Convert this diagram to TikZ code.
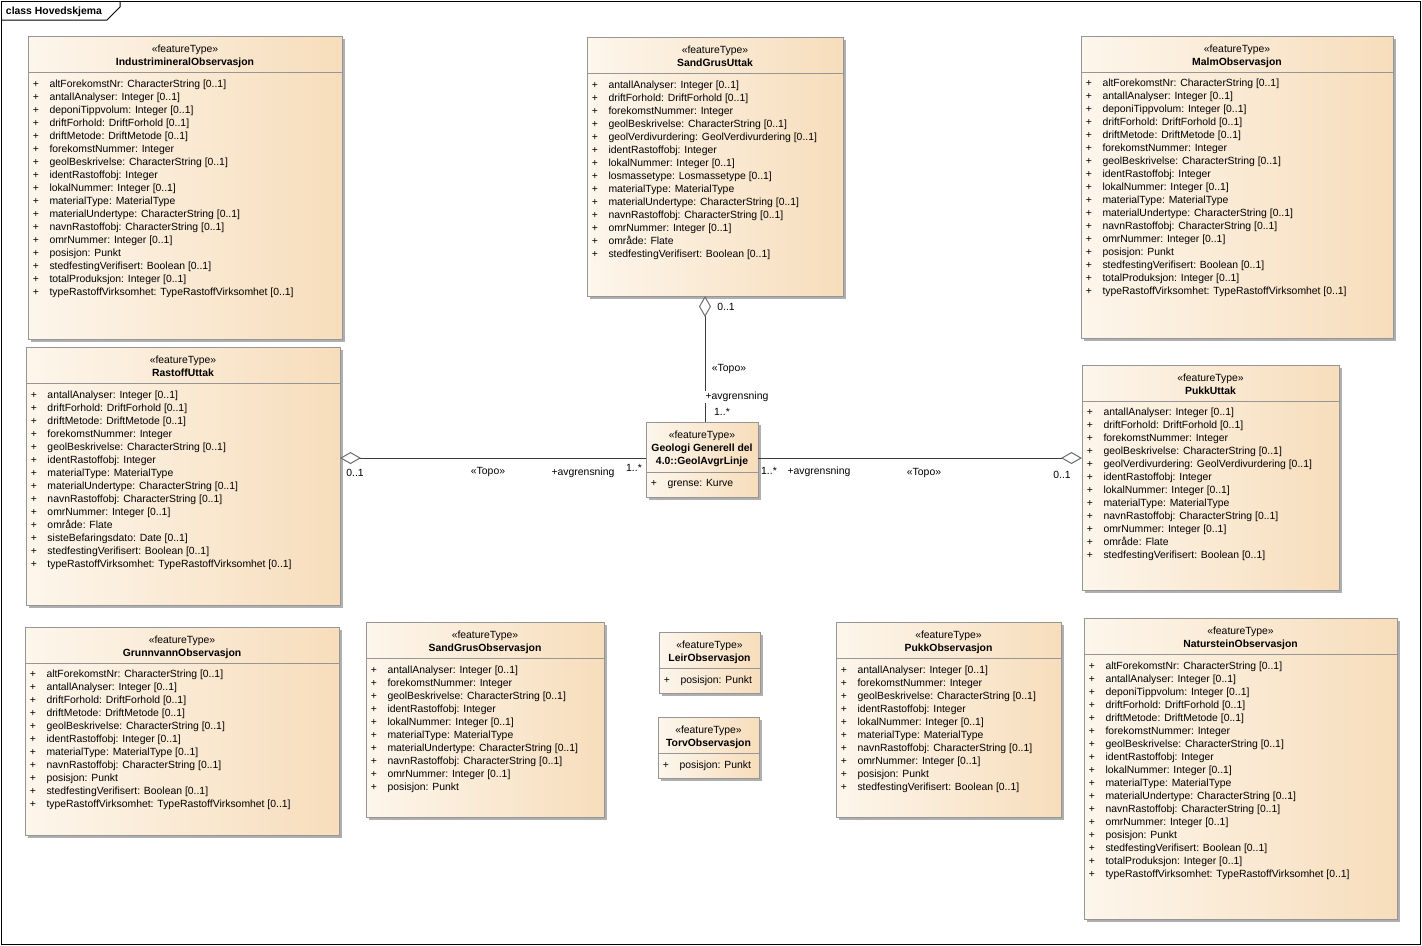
\documentclass[tikz,border=0pt]{standalone}
\usepackage{fontspec}
\setmainfont{Liberation Sans}
\usetikzlibrary{arrows.meta,shadows,calc}
\definecolor{fillL}{RGB}{253,246,236}
\definecolor{fillR}{RGB}{247,221,187}
\definecolor{boxborder}{RGB}{150,150,150}
\definecolor{shadowc}{RGB}{175,175,175}
\definecolor{linec}{RGB}{60,60,60}
\definecolor{diamc}{RGB}{110,110,110}

\tikzset{
 classbox/.style={draw=boxborder, line width=0.75pt, left color=fillL, right color=fillR,
   inner sep=0pt, outer sep=0pt,
   drop shadow={shadow xshift=2.6pt, shadow yshift=-2.6pt, fill=shadowc, opacity=1}},
 sepline/.style={draw=boxborder, line width=0.75pt},
 txt/.style={inner sep=0pt, outer sep=0pt, font=\fontsize{7.8}{9.75}\selectfont, text=black},
 stereo/.style={txt, anchor=base},
 cname/.style={txt, anchor=base, font=\fontsize{7.8}{9.75}\selectfont\bfseries},
 plus/.style={txt, anchor=base},
 attr/.style={txt, anchor=base west},
 lbl/.style={txt, anchor=base},
 assoc/.style={draw=linec, line width=0.75pt,
   -{Diamond[length=15.75pt, width=9pt, fill=white, color=diamc]}},
}

\newcommand\uclass[6]{%
  \node[classbox, minimum width={(#4-#2)*0.75pt}, minimum height={(#5-#3)*0.75pt}]
    (#1) at ({(#2+#4)/2},{(#3+#5)/2}) {};
  \draw[sepline] ([yshift=-27pt]#1.north west) -- ([yshift=-27pt]#1.north east);
  \node[stereo] (#1-st) at ([yshift=-12.375pt]#1.north) {«featureType»};
  \node[cname] (#1-nm) at ([yshift=-22.125pt]#1.north) {#6};
}
\newcommand\uattrs[3]{%
  \foreach \a [count=\i] in {#3} {
    \pgfmathsetmacro\dy{-(#2+4.5+(\i-1)*13)*0.75}
    \node[plus] (#1-p\i) at ([xshift=6pt,yshift=\dy pt]#1.north west) {+};
    \node[attr] (#1-a\i) at ([xshift=16.125pt,yshift=\dy pt]#1.north west) {\a};
  }
}

\begin{document}
\begin{tikzpicture}[x=0.75pt,y=-0.75pt]
\useasboundingbox (0,0) rectangle (1422,946);
\fill[white] (0,0) rectangle (1422,946);

% frame
\draw[black, line width=0.75pt] (1,1) rectangle (1420.5,944.5);
\draw[black, line width=0.75pt] (1,20) -- (107,20) -- (120,7) -- (120,1);
\node[txt, anchor=base west, font=\fontsize{7.8}{9.75}\selectfont\bfseries] (title) at (6,14) {class Hovedskjema};

% top row
\uclass{ind}{28}{36}{342}{339}{IndustrimineralObservasjon}
\uattrs{ind}{47}{{altForekomstNr: CharacterString [0..1]},{antallAnalyser: Integer [0..1]},{deponiTippvolum: Integer [0..1]},{driftForhold: DriftForhold [0..1]},{driftMetode: DriftMetode [0..1]},{forekomstNummer: Integer},{geolBeskrivelse: CharacterString [0..1]},{identRastoffobj: Integer},{lokalNummer: Integer [0..1]},{materialType: MaterialType},{materialUndertype: CharacterString [0..1]},{navnRastoffobj: CharacterString [0..1]},{omrNummer: Integer [0..1]},{posisjon: Punkt},{stedfestingVerifisert: Boolean [0..1]},{totalProduksjon: Integer [0..1]},{typeRastoffVirksomhet: TypeRastoffVirksomhet [0..1]}}

\uclass{sgu}{587}{37}{843}{296}{SandGrusUttak}
\uattrs{sgu}{47}{{antallAnalyser: Integer [0..1]},{driftForhold: DriftForhold [0..1]},{forekomstNummer: Integer},{geolBeskrivelse: CharacterString [0..1]},{geolVerdivurdering: GeolVerdivurdering [0..1]},{identRastoffobj: Integer},{lokalNummer: Integer [0..1]},{losmassetype: Losmassetype [0..1]},{materialType: MaterialType},{materialUndertype: CharacterString [0..1]},{navnRastoffobj: CharacterString [0..1]},{omrNummer: Integer [0..1]},{område: Flate},{stedfestingVerifisert: Boolean [0..1]}}

\uclass{malm}{1081}{36}{1393}{338}{MalmObservasjon}
\uattrs{malm}{46}{{altForekomstNr: CharacterString [0..1]},{antallAnalyser: Integer [0..1]},{deponiTippvolum: Integer [0..1]},{driftForhold: DriftForhold [0..1]},{driftMetode: DriftMetode [0..1]},{forekomstNummer: Integer},{geolBeskrivelse: CharacterString [0..1]},{identRastoffobj: Integer},{lokalNummer: Integer [0..1]},{materialType: MaterialType},{materialUndertype: CharacterString [0..1]},{navnRastoffobj: CharacterString [0..1]},{omrNummer: Integer [0..1]},{posisjon: Punkt},{stedfestingVerifisert: Boolean [0..1]},{totalProduksjon: Integer [0..1]},{typeRastoffVirksomhet: TypeRastoffVirksomhet [0..1]}}

% middle row
\uclass{rast}{26}{347}{340}{605}{RastoffUttak}
\uattrs{rast}{47}{{antallAnalyser: Integer [0..1]},{driftForhold: DriftForhold [0..1]},{driftMetode: DriftMetode [0..1]},{forekomstNummer: Integer},{geolBeskrivelse: CharacterString [0..1]},{identRastoffobj: Integer},{materialType: MaterialType},{materialUndertype: CharacterString [0..1]},{navnRastoffobj: CharacterString [0..1]},{omrNummer: Integer [0..1]},{område: Flate},{sisteBefaringsdato: Date [0..1]},{stedfestingVerifisert: Boolean [0..1]},{typeRastoffVirksomhet: TypeRastoffVirksomhet [0..1]}}

\uclass{pku}{1082}{365}{1339}{590}{PukkUttak}
\uattrs{pku}{46}{{antallAnalyser: Integer [0..1]},{driftForhold: DriftForhold [0..1]},{forekomstNummer: Integer},{geolBeskrivelse: CharacterString [0..1]},{geolVerdivurdering: GeolVerdivurdering [0..1]},{identRastoffobj: Integer},{lokalNummer: Integer [0..1]},{materialType: MaterialType},{navnRastoffobj: CharacterString [0..1]},{omrNummer: Integer [0..1]},{område: Flate},{stedfestingVerifisert: Boolean [0..1]}}

% GeolAvgrLinje
\node[classbox, minimum width=84pt, minimum height=56.25pt] (geo) at (702,459.5) {};
\draw[sepline] ([yshift=-37.5pt]geo.north west) -- ([yshift=-37.5pt]geo.north east);
\node[stereo] (geo-st) at ([yshift=-12.375pt]geo.north) {«featureType»};
\node[cname] (geo-nm1) at ([yshift=-22.125pt]geo.north) {Geologi Generell del};
\node[cname] (geo-nm2) at ([yshift=-31.875pt]geo.north) {4.0::GeolAvgrLinje};
\uattrs{geo}{59.5}{{grense: Kurve}}

% bottom row
\uclass{grv}{25}{627}{339}{835}{GrunnvannObservasjon}
\uattrs{grv}{46}{{altForekomstNr: CharacterString [0..1]},{antallAnalyser: Integer [0..1]},{driftForhold: DriftForhold [0..1]},{driftMetode: DriftMetode [0..1]},{geolBeskrivelse: CharacterString [0..1]},{identRastoffobj: Integer [0..1]},{materialType: MaterialType [0..1]},{navnRastoffobj: CharacterString [0..1]},{posisjon: Punkt},{stedfestingVerifisert: Boolean [0..1]},{typeRastoffVirksomhet: TypeRastoffVirksomhet [0..1]}}

\uclass{sgo}{366}{622}{604}{817}{SandGrusObservasjon}
\uattrs{sgo}{47}{{antallAnalyser: Integer [0..1]},{forekomstNummer: Integer},{geolBeskrivelse: CharacterString [0..1]},{identRastoffobj: Integer},{lokalNummer: Integer [0..1]},{materialType: MaterialType},{materialUndertype: CharacterString [0..1]},{navnRastoffobj: CharacterString [0..1]},{omrNummer: Integer [0..1]},{posisjon: Punkt}}

\uclass{leir}{659}{632}{760}{693}{LeirObservasjon}
\uattrs{leir}{47}{{posisjon: Punkt}}

\uclass{torv}{658}{717}{759}{778}{TorvObservasjon}
\uattrs{torv}{47}{{posisjon: Punkt}}

\uclass{pko}{836}{622}{1061}{817}{PukkObservasjon}
\uattrs{pko}{47}{{antallAnalyser: Integer [0..1]},{forekomstNummer: Integer},{geolBeskrivelse: CharacterString [0..1]},{identRastoffobj: Integer},{lokalNummer: Integer [0..1]},{materialType: MaterialType},{navnRastoffobj: CharacterString [0..1]},{omrNummer: Integer [0..1]},{posisjon: Punkt},{stedfestingVerifisert: Boolean [0..1]}}

\uclass{nat}{1084}{618}{1397}{919}{NatursteinObservasjon}
\uattrs{nat}{47}{{altForekomstNr: CharacterString [0..1]},{antallAnalyser: Integer [0..1]},{deponiTippvolum: Integer [0..1]},{driftForhold: DriftForhold [0..1]},{driftMetode: DriftMetode [0..1]},{forekomstNummer: Integer},{geolBeskrivelse: CharacterString [0..1]},{identRastoffobj: Integer},{lokalNummer: Integer [0..1]},{materialType: MaterialType},{materialUndertype: CharacterString [0..1]},{navnRastoffobj: CharacterString [0..1]},{omrNummer: Integer [0..1]},{posisjon: Punkt},{stedfestingVerifisert: Boolean [0..1]},{totalProduksjon: Integer [0..1]},{typeRastoffVirksomhet: TypeRastoffVirksomhet [0..1]}}

% connectors
\draw[assoc] ([yshift=1.1pt]geo.west) -- ([yshift=1.1pt]geo.west -| rast.east);
\draw[assoc] ([yshift=1.1pt]geo.east) -- ([yshift=1.1pt]geo.east -| pku.west);
\draw[assoc] ([xshift=2.25pt]geo.north) -- ([xshift=2.25pt]geo.north |- sgu.south);

% labels left
\node[lbl] (l-m1) at (355,476.5) {0..1};
\node[lbl] (l-st) at (488,474.5) {«Topo»};
\node[lbl] (l-rl) at (583,475.5) {+avgrensning};
\node[lbl] (l-m2) at (634,471.5) {1..*};
% labels right
\node[lbl] (r-m2) at (769,474.5) {1..*};
\node[lbl] (r-rl) at (819,474.5) {+avgrensning};
\node[lbl] (r-st) at (924,475.5) {«Topo»};
\node[lbl] (r-m1) at (1062,478.5) {0..1};
% labels top
\node[lbl] (t-m1) at (726,310.5) {0..1};
\node[lbl] (t-st) at (729,371.5) {«Topo»};
\node[lbl, fill=white, inner sep=1pt] (t-rl) at (737,399.5) {+avgrensning};
\node[lbl] (t-m2) at (722,415.5) {1..*};
\end{tikzpicture}
\end{document}
